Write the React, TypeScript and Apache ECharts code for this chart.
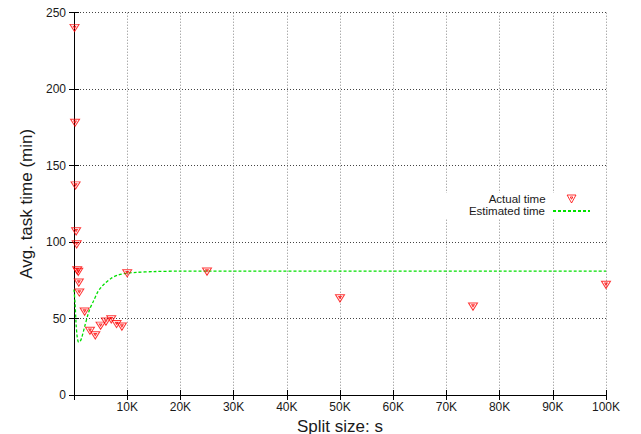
import React, { useEffect, useRef } from "react";
import * as echarts from "echarts";

const FONT = "'Liberation Sans', Arial, Helvetica, sans-serif";

// Actual time measurements: [split size, avg task time (min)]
const actualX = [100, 200, 300, 400, 500, 600, 800, 900, 1000, 2000, 3000, 4000, 5000, 6000, 7000, 8000, 9000, 10000, 25000, 50000, 75000, 100000];
const actualY = [240, 178, 137, 107, 98.5, 81.5, 80.5, 73.5, 67, 54.5, 42, 39, 45.3, 48, 49.5, 46.4, 44.7, 79.6, 80.7, 63.2, 57.8, 72];

// Estimated time curve
const estX = [0, 200, 400, 600, 800, 1000, 1400, 2000, 2600, 3000, 3600, 4500, 5000, 5800, 7000, 8300, 9800, 11700, 15000, 20000, 100000];
const estY = [69, 60, 46, 38, 34.8, 34.6, 37, 44.7, 52.3, 56.5, 61, 67.6, 70, 73, 76.3, 78.5, 79.6, 80.2, 80.7, 81, 81];

const xTicks = { min: 0, max: 100000, interval: 10000 };
const yTicks = { min: 0, max: 250, interval: 50 };

const TRI = "path://M0,0L10,0L5,9Z M3.6,2.2L6.4,2.2L5,4.8Z";
const RED = "#ff0000";
const GREEN = "#00e000";

export default function App() {
  const ref = useRef<HTMLDivElement>(null);
  useEffect(() => {
    if (!ref.current) return;
    const chart = echarts.init(ref.current, undefined, { renderer: "svg" });
    const axisLine = { show: true, lineStyle: { color: "#000", width: 1 } };
    const tick = { show: true, inside: true, length: 5, lineStyle: { color: "#000" } };
    const legendCommon = {
      orient: "vertical",
      right: 37,
      align: "right",
      backgroundColor: "#fff",
      selectedMode: false,
    };
    const legendText = { fontSize: 11.5, lineHeight: 12, color: "#1a1a1a", fontFamily: FONT };
    chart.setOption({
      animation: false,
      backgroundColor: "#fff",
      grid: { left: 74, right: 35, top: 12.7, bottom: 39, containLabel: false, outerBoundsMode: "none" },
      legend: [
        {
          ...legendCommon,
          data: [{ name: "Actual time", icon: TRI, itemStyle: { color: "rgba(255,255,255,0)", borderColor: RED, borderWidth: 1 } }],
          itemWidth: 9,
          itemHeight: 8,
          top: 193,
          padding: [0, 27.5, 0, 50],
          textStyle: { ...legendText, padding: [0, 16.5, 0, 0] },
        },
        {
          ...legendCommon,
          data: [{ name: "Estimated time", itemStyle: { opacity: 0 } }],
          itemWidth: 37,
          itemHeight: 8,
          top: 205,
          padding: [0, 13, 1, 50],
          textStyle: { ...legendText, padding: [0, 3, 0, 0] },
        },
      ],
      xAxis: [
        {
          type: "value",
          ...xTicks,
          name: "Split size: s",
          nameLocation: "middle",
          nameGap: 12,
          nameTextStyle: { fontSize: 17, lineHeight: 17, color: "#1a1a1a", fontFamily: FONT },
          axisLine,
          axisTick: tick,
          axisLabel: {
            fontSize: 12,
            color: "#1a1a1a",
            fontFamily: FONT,
            margin: 6,
            formatter: (v: number) => (v === 0 ? "" : v / 1000 + "K"),
          },
          splitLine: { show: true, lineStyle: { color: "#888", type: [1, 2], width: 1 } },
        },
        {
          type: "value",
          ...xTicks,
          position: "top",
          axisLine,
          axisTick: tick,
          axisLabel: { show: false },
          splitLine: { show: false },
        },
      ],
      yAxis: [
        {
          type: "value",
          ...yTicks,
          name: "Avg. task time (min)",
          nameLocation: "middle",
          nameGap: 38,
          nameTextStyle: { fontSize: 17, color: "#1a1a1a", fontFamily: FONT },
          axisLine,
          axisTick: tick,
          axisLabel: { fontSize: 12, color: "#1a1a1a", fontFamily: FONT, margin: 8 },
          splitLine: { show: true, lineStyle: { color: "#444", type: [1, 2], width: 1 } },
        },
        {
          type: "value",
          ...yTicks,
          position: "right",
          axisLine,
          axisTick: tick,
          axisLabel: { show: false },
          splitLine: { show: false },
        },
      ],
      series: [
        {
          name: "Actual time",
          type: "scatter",
          data: actualX.map((x, i) => [x, actualY[i]]),
          symbol: TRI,
          symbolSize: [9, 8],
          symbolKeepAspect: true,
          clip: false,
          itemStyle: { color: "rgba(255,255,255,0)", borderColor: RED, borderWidth: 1 },
          z: 3,
        },
        {
          name: "Estimated time",
          type: "line",
          data: estX.map((x, i) => [x, estY[i]]),
          smooth: 0.3,
          symbol: "none",
          lineStyle: { color: GREEN, width: 1.3, type: [3, 2] },
          itemStyle: { color: GREEN },
          z: 2,
        },
      ],
    });
    return () => chart.dispose();
  }, []);
  return <div ref={ref} style={{ position: "fixed", left: 0, top: 0, width: 641, height: 434 }} />;
}
